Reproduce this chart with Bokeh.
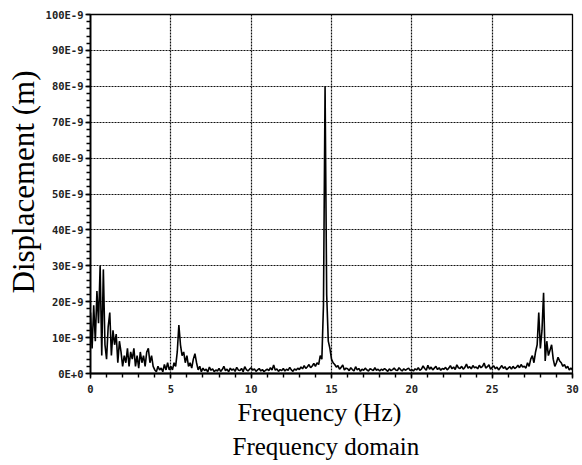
from bokeh.plotting import figure
from bokeh.models import SingleIntervalTicker, Title, ColumnDataSource
from bokeh.embed import file_html
from bokeh.resources import INLINE

# Frequency axis sampling (Hz), 0.1 Hz resolution
freq = [round(i * 0.1, 1) for i in range(301)]

# Displacement amplitude, in units of 1E-9 m (one row per Hz)
amp_nm = [
    17, 7, 19, 9, 23, 14, 30, 5, 29, 8,            # 0
    4, 13, 17, 5, 12, 8, 11, 3, 9, 6,              # 1
    2, 5, 3, 7, 2, 6, 4, 7, 2, 5,                  # 2
    1.5, 6, 3, 5, 2, 6, 7, 3, 5, 2,                # 3
    1, 0.5, 2, 1, 1.5, 0.5, 2.5, 1, 3, 1,          # 4
    2, 1, 3, 2, 6, 13.5, 8, 5, 6, 3,               # 5
    5, 2, 3, 1.5, 4, 5.5, 3, 1, 2, 0.5,            # 6
    1.5, 0.8, 1.2, 0.4, 1.8, 0.9, 1.3, 0.5, 1.0, 0.7,  # 7
    1.4, 0.6, 1.1, 2.0, 0.8, 1.2, 0.5, 1.5, 0.9, 1.3,  # 8
    0.6, 1.7, 1.0, 0.8, 1.4, 0.5, 1.9, 1.1, 0.7, 1.2,  # 9
    1.6, 0.9, 1.3, 0.6, 1.0, 1.4, 0.7, 1.1, 0.5, 0.9,  # 10
    1.2, 0.8, 1.6, 1.0, 2.4, 0.9, 1.3, 0.6, 1.1, 0.8,  # 11
    1.4, 0.7, 1.2, 0.9, 1.7, 1.0, 0.6, 1.3, 0.9, 1.5,  # 12
    1.1, 1.8, 1.3, 2.2, 1.4, 1.9, 2.5, 1.6, 2.1, 2.8,  # 13
    2, 3, 2.5, 5, 4, 19, 80, 22, 9, 7,                 # 14
    4, 3, 2.5, 1.8, 2.2, 1.2, 1.7, 2.4, 1.0, 1.5,      # 15
    1.3, 0.8, 1.6, 1.1, 0.7, 1.9, 1.0, 1.4, 0.6, 1.2,  # 16
    0.9, 1.5, 1.0, 0.7, 1.3, 1.1, 0.8, 1.6, 0.9, 1.2,  # 17
    0.7, 1.2, 0.9, 1.4, 1.0, 0.6, 1.3, 0.8, 1.1, 1.5,  # 18
    1.0, 0.8, 1.6, 1.1, 0.7, 1.3, 0.9, 1.2, 1.5, 0.8,  # 19
    1.1, 0.7, 1.3, 1.0, 1.6, 0.9, 1.2, 2.1, 1.4, 0.9,  # 20
    2.3, 1.2, 1.8, 1.0, 1.5, 2.0, 1.1, 1.6, 0.9, 1.4,  # 21
    1.2, 1.7, 1.0, 1.5, 2.2, 1.3, 1.8, 1.1, 2.4, 1.6,  # 22
    1.4, 2.0, 1.2, 1.7, 2.6, 1.5, 1.9, 1.3, 2.2, 1.6,  # 23
    1.8, 1.3, 2.3, 1.6, 2.0, 2.9, 1.5, 1.9, 2.4, 1.2,  # 24
    1.7, 2.1, 1.3, 1.8, 1.0, 1.6, 2.2, 1.4, 1.9, 1.1,  # 25
    1.5, 1.9, 1.2, 2.0, 1.4, 1.7, 2.3, 1.6, 2.5, 1.8,  # 26
    2, 1.5, 3, 2, 4, 5, 3, 6, 8, 17,                   # 27
    7, 12, 22.5, 3.5, 9, 5, 6.5, 8, 4, 2,              # 28
    3, 4.5, 3.5, 3, 2, 2.5, 1.5, 2, 1, 1.5,            # 29
    1,                                                 # 30
]

y_tick_values = [0, 10, 20, 30, 40, 50, 60, 70, 80, 90, 100]
y_tick_labels = ["0E+0", "10E-9", "20E-9", "30E-9", "40E-9", "50E-9",
                 "60E-9", "70E-9", "80E-9", "90E-9", "100E-9"]

x_label = "Frequency (Hz)"
y_label = "Displacement (m)"
caption = "Frequency domain"

source = ColumnDataSource(data=dict(f=freq, a=amp_nm))

p = figure(width=582, height=465, x_range=(0, 30), y_range=(0, 100),
           output_backend="svg", toolbar_location=None,
           min_border_left=90, min_border_right=10, min_border_top=14,
           min_border_bottom=92)

p.line("f", "a", source=source, color="black", line_width=1.6)

xt = SingleIntervalTicker(interval=5, num_minor_ticks=5)
yt = SingleIntervalTicker(interval=10, num_minor_ticks=5)
p.xaxis.ticker = xt
p.yaxis.ticker = yt
p.xgrid.ticker = xt
p.ygrid.ticker = yt
p.yaxis.major_label_overrides = {v: l for v, l in zip(y_tick_values, y_tick_labels)}

for ax in (p.xaxis[0], p.yaxis[0]):
    ax.axis_line_color = "black"
    ax.axis_line_width = 1.8
    ax.major_tick_line_color = "black"
    ax.minor_tick_line_color = "black"
    ax.major_tick_line_width = 1.4
    ax.minor_tick_line_width = 1.4
    ax.major_tick_out = 5
    ax.major_tick_in = 0
    ax.minor_tick_out = 4
    ax.minor_tick_in = 0
    ax.major_label_text_font = "DejaVu Sans Mono"
    ax.major_label_text_font_style = "bold"
    ax.major_label_text_font_size = "10.5px"
    ax.major_label_text_color = "#222222"

p.xaxis.major_label_standoff = 6
p.yaxis.major_label_standoff = 2

for g in (p.xgrid[0], p.ygrid[0]):
    g.grid_line_color = "#111111"
    g.grid_line_dash = "2 1"
    g.grid_line_width = 1.2

p.outline_line_color = "black"
p.outline_line_width = 1.3
p.background_fill_color = "white"
p.border_fill_color = "white"

# Axis titles and caption as side titles so that they can be offset like the reference
p.add_layout(Title(text=x_label, align="left", offset=147, standoff=0,
                   text_font="Liberation Serif", text_font_size="26px",
                   text_font_style="normal", text_color="black"), "below")
p.add_layout(Title(text=caption, align="left", offset=142, standoff=8,
                   text_font="Liberation Serif", text_font_size="25px",
                   text_font_style="normal", text_color="black"), "below")
p.add_layout(Title(text=y_label, align="left", offset=80, standoff=4,
                   text_font="Liberation Serif", text_font_size="31px",
                   text_font_style="normal", text_color="black"), "left")

open("out.html", "w").write(file_html(p, INLINE))
